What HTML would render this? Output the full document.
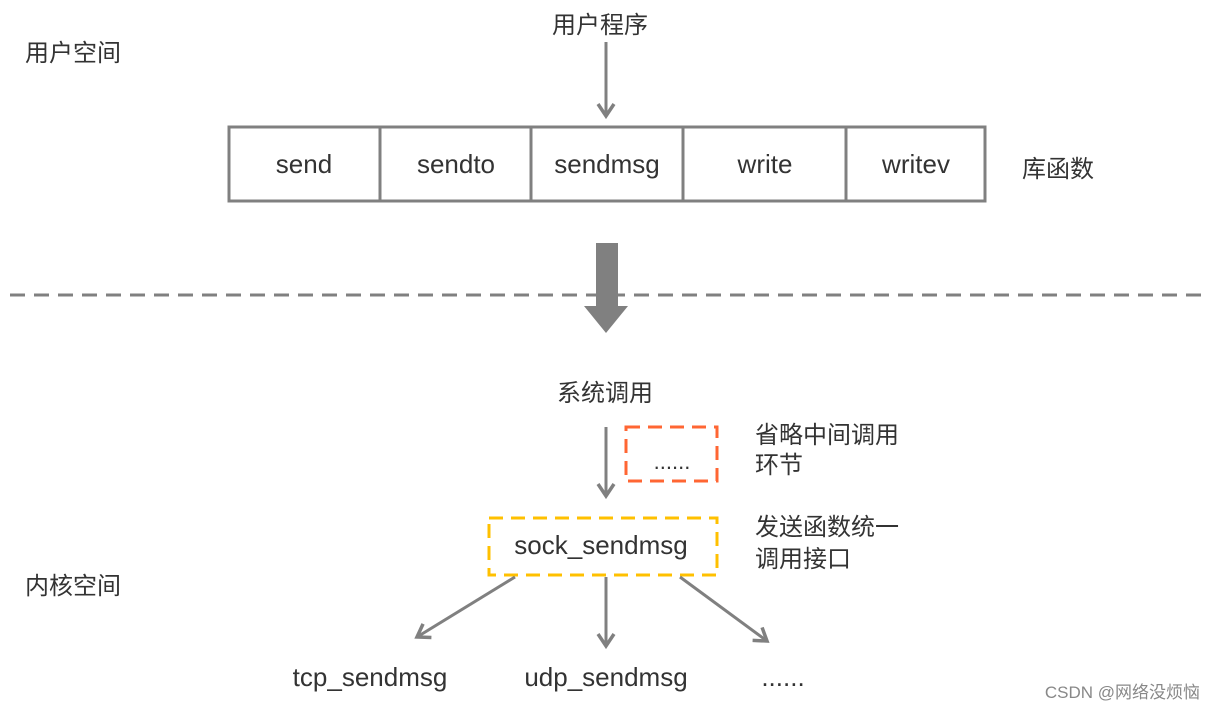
<!DOCTYPE html>
<html><head><meta charset="utf-8"><style>
html,body{margin:0;padding:0;background:#fff;}
svg{display:block;}
text{font-family:"Liberation Sans","Noto Sans CJK SC",sans-serif;fill:#333;}
</style></head><body>
<svg width="1215" height="711" viewBox="0 0 1215 711">
<defs>
<marker id="ah" viewBox="0 0 20 20" refX="14" refY="10" markerWidth="20" markerHeight="20" markerUnits="userSpaceOnUse" orient="auto">
<path d="M2,2 L14,10 L2,18" fill="none" stroke="#808080" stroke-width="3.5"/>
</marker>
</defs>
<text x="25" y="61" font-size="24">用户空间</text>
<text x="25" y="594" font-size="24">内核空间</text>
<text x="600" y="33" font-size="24" text-anchor="middle">用户程序</text>
<line x1="606" y1="42" x2="606" y2="116" stroke="#808080" stroke-width="3" marker-end="url(#ah)"/>
<rect x="229" y="127" width="756" height="74" fill="none" stroke="#808080" stroke-width="3"/>
<g stroke="#808080" stroke-width="3">
<line x1="380" y1="127" x2="380" y2="201"/><line x1="531" y1="127" x2="531" y2="201"/>
<line x1="683" y1="127" x2="683" y2="201"/><line x1="846" y1="127" x2="846" y2="201"/>
</g>
<g font-size="26" text-anchor="middle">
<text x="304" y="173">send</text><text x="456" y="173">sendto</text><text x="607" y="173">sendmsg</text>
<text x="765" y="173">write</text><text x="916" y="173">writev</text>
</g>
<text x="1022" y="177" font-size="24">库函数</text>
<line x1="10" y1="295" x2="1205" y2="295" stroke="#808080" stroke-width="3" stroke-dasharray="15,9"/>
<rect x="596" y="243" width="22" height="64" fill="#808080"/>
<polygon points="584,306 628,306 606,333" fill="#808080"/>
<text x="605" y="401" font-size="24" text-anchor="middle">系统调用</text>
<line x1="606" y1="427" x2="606" y2="496" stroke="#808080" stroke-width="3" marker-end="url(#ah)"/>
<rect x="626" y="427" width="91" height="54" fill="none" stroke="#ff6633" stroke-width="3" stroke-dasharray="14,8"/>
<text x="672" y="469" font-size="22" text-anchor="middle">......</text>
<text x="755" y="443" font-size="24">省略中间调用</text>
<text x="755" y="473" font-size="24">环节</text>
<rect x="489" y="518" width="228" height="57" fill="none" stroke="#ffc000" stroke-width="3" stroke-dasharray="14,8"/>
<text x="601" y="554" font-size="26" text-anchor="middle">sock_sendmsg</text>
<text x="755" y="535" font-size="24">发送函数统一</text>
<text x="755" y="567" font-size="24">调用接口</text>
<line x1="515" y1="577" x2="417" y2="637" stroke="#808080" stroke-width="3" marker-end="url(#ah)"/>
<line x1="606" y1="577" x2="606" y2="646" stroke="#808080" stroke-width="3" marker-end="url(#ah)"/>
<line x1="680" y1="577" x2="767" y2="641" stroke="#808080" stroke-width="3" marker-end="url(#ah)"/>
<g font-size="26" text-anchor="middle">
<text x="370" y="686">tcp_sendmsg</text><text x="606" y="686">udp_sendmsg</text><text x="783" y="686">......</text>
</g>
<text x="1200" y="698" font-size="17" text-anchor="end" style="fill:#888">CSDN @网络没烦恼</text>
</svg>
</body></html>
